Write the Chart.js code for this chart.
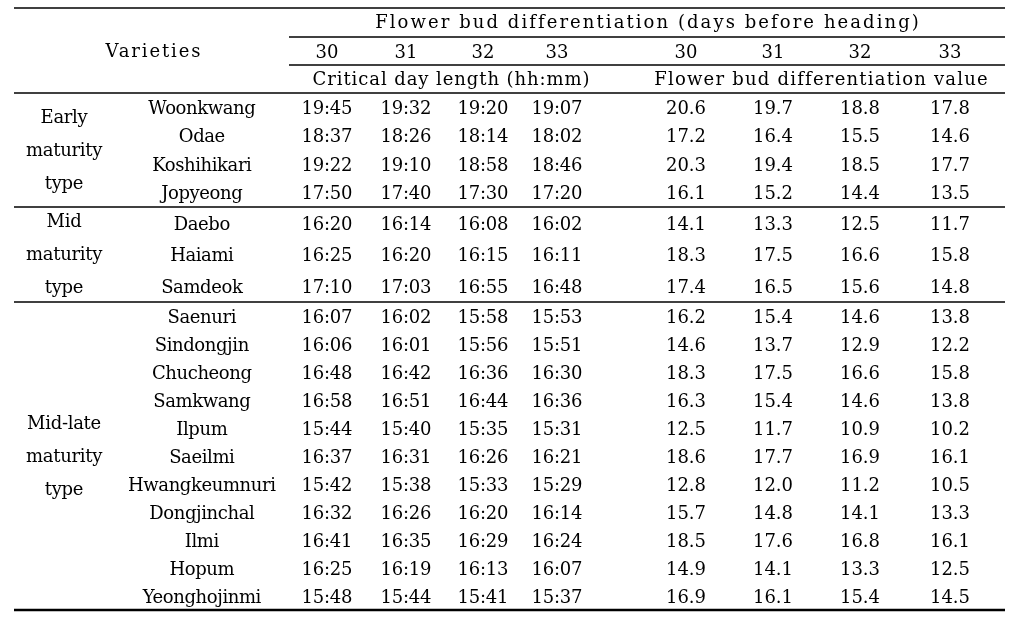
<!DOCTYPE html>
<html><head><meta charset="utf-8">
<script src="https://cdn.jsdelivr.net/npm/chart.js@4/dist/chart.umd.min.js"></script>
<style>html,body{margin:0;padding:0;background:#fff;}#wrap{width:1013px;height:621px;}</style>
</head><body><div id="wrap"><canvas id="c" width="1013" height="621"></canvas></div>
<script>
// ---------------- DATA ----------------
const groupLabels = [["Early","maturity","type"],["Mid","maturity","type"],["Mid-late","maturity","type"]];
const varieties = ["Woonkwang","Odae","Koshihikari","Jopyeong","Daebo","Haiami","Samdeok","Saenuri","Sindongjin","Chucheong","Samkwang","Ilpum","Saeilmi","Hwangkeumnuri","Dongjinchal","Ilmi","Hopum","Yeonghojinmi"];
const varietyGroup = [0,0,0,0,1,1,1,2,2,2,2,2,2,2,2,2,2,2];
const daysBeforeHeading = [30,31,32,33];
const cdl30 = ["19:45","18:37","19:22","17:50","16:20","16:25","17:10","16:07","16:06","16:48","16:58","15:44","16:37","15:42","16:32","16:41","16:25","15:48"];
const cdl31 = ["19:32","18:26","19:10","17:40","16:14","16:20","17:03","16:02","16:01","16:42","16:51","15:40","16:31","15:38","16:26","16:35","16:19","15:44"];
const cdl32 = ["19:20","18:14","18:58","17:30","16:08","16:15","16:55","15:58","15:56","16:36","16:44","15:35","16:26","15:33","16:20","16:29","16:13","15:41"];
const cdl33 = ["19:07","18:02","18:46","17:20","16:02","16:11","16:48","15:53","15:51","16:30","16:36","15:31","16:21","15:29","16:14","16:24","16:07","15:37"];
const fbd30 = [20.6,17.2,20.3,16.1,14.1,18.3,17.4,16.2,14.6,18.3,16.3,12.5,18.6,12.8,15.7,18.5,14.9,16.9];
const fbd31 = [19.7,16.4,19.4,15.2,13.3,17.5,16.5,15.4,13.7,17.5,15.4,11.7,17.7,12.0,14.8,17.6,14.1,16.1];
const fbd32 = [18.8,15.5,18.5,14.4,12.5,16.6,15.6,14.6,12.9,16.6,14.6,10.9,16.9,11.2,14.1,16.8,13.3,15.4];
const fbd33 = [17.8,14.6,17.7,13.5,11.7,15.8,14.8,13.8,12.2,15.8,13.8,10.2,16.1,10.5,13.3,16.1,12.5,14.5];
const titleText = "Flower bud differentiation (days before heading)";
const cdlTitle = "Critical day length (hh:mm)";
const fbdTitle = "Flower bud differentiation value";
const varietiesTitle = "Varieties";

// ---------------- LAYOUT (positions in scale units) ----------------
const L = {
  left: 14, right: 1005, spanLeft: 289,
  hTop: 8, h1: 37, h2: 65, hBottom: 93,
  sections: [93, 207, 302, 610],
  groupX: 64, groupLineGap: 33,
  varietyX: 202,
  cdlX: [327, 406, 483, 557],
  fbdX: [686, 773, 860, 950],
  titleY: 22, numY: 51, subY: 79,
  titleX: 647, titleW: 543,
  cdlTitleX: 451, cdlTitleW: 277,
  fbdTitleX: 821, fbdTitleW: 333,
  varTitleX: 153, varTitleW: 95
};
const BODY = '"DejaVu Serif", serif';

function rowY(i) {
  const g = varietyGroup[i];
  const idxs = varietyGroup.map((v, k) => v === g ? k : -1).filter(k => k >= 0);
  const k = idxs.indexOf(i);
  const top = L.sections[g], bot = L.sections[g + 1];
  return top + (k + 0.5) * (bot - top) / idxs.length;
}
function column(xv, labels) {
  return labels.map((lab, i) => ({ x: xv, y: rowY(i), label: lab }));
}
const cdlCols = [cdl30, cdl31, cdl32, cdl33];
const fbdCols = [fbd30, fbd31, fbd32, fbd33];
const datasets = [];
datasets.push({ label: "Varieties", data: column(L.varietyX, varieties), spacing: -0.4 });
cdlCols.forEach((c, j) => datasets.push({ label: "CDL " + daysBeforeHeading[j], data: column(L.cdlX[j], c), spacing: -0.2 }));
fbdCols.forEach((c, j) => datasets.push({ label: "FBD " + daysBeforeHeading[j], data: column(L.fbdX[j], c.map(v => v.toFixed(1))), spacing: 0 }));
datasets.forEach(d => { d.pointRadius = 0; d.pointHoverRadius = 0; d.showLine = false; });

function fitText(ctx, text, cx, cy, w) {
  ctx.letterSpacing = '0px';
  const m = ctx.measureText(text).width;
  const ls = (w - m) / (text.length - 1);
  ctx.letterSpacing = ls + 'px';
  ctx.fillText(text, cx + ls / 2, cy);
  ctx.letterSpacing = '0px';
}

const tablePlugin = {
  id: 'tableDraw',
  afterDatasetsDraw(chart) {
    const { ctx, scales: { x, y } } = chart;
    const X = v => x.getPixelForValue(v), Y = v => y.getPixelForValue(v);
    ctx.save();
    ctx.fillStyle = '#000';
    ctx.strokeStyle = '#000';
    const hline = (yv, x0, x1, w) => {
      ctx.lineWidth = w;
      ctx.beginPath(); ctx.moveTo(X(x0), Y(yv)); ctx.lineTo(X(x1), Y(yv)); ctx.stroke();
    };
    hline(L.hTop, L.left, L.right, 1.4);
    hline(L.h1, L.spanLeft, L.right, 1.4);
    hline(L.h2, L.spanLeft, L.right, 1.4);
    hline(L.hBottom, L.left, L.right, 1.4);
    hline(L.sections[1], L.left, L.right, 1.4);
    hline(L.sections[2], L.left, L.right, 1.4);
    hline(L.sections[3], L.left, L.right, 2.4);
    ctx.textAlign = 'center';
    ctx.textBaseline = 'middle';
    ctx.font = '18px ' + BODY;
    fitText(ctx, titleText, X(L.titleX), Y(L.titleY) + 1, L.titleW);
    fitText(ctx, cdlTitle, X(L.cdlTitleX), Y(L.subY) + 1, L.cdlTitleW);
    fitText(ctx, fbdTitle, X(L.fbdTitleX), Y(L.subY) + 1, L.fbdTitleW);
    fitText(ctx, varietiesTitle, X(L.varTitleX), Y(L.numY) + 1, L.varTitleW);
    daysBeforeHeading.forEach((d, j) => {
      ctx.fillText(String(d), X(L.cdlX[j]), Y(L.numY) + 2);
      ctx.fillText(String(d), X(L.fbdX[j]), Y(L.numY) + 2);
    });
    ctx.letterSpacing = '-0.3px';
    groupLabels.forEach((lines, g) => {
      const c = (L.sections[g] + L.sections[g + 1]) / 2;
      lines.forEach((t, k) => ctx.fillText(t, X(L.groupX), Y(c + (k - 1) * L.groupLineGap) + 1));
    });
    chart.data.datasets.forEach((ds, di) => {
      const meta = chart.getDatasetMeta(di);
      ctx.letterSpacing = ds.spacing + 'px';
      meta.data.forEach((el, i) => {
        ctx.fillText(ds.data[i].label, el.x + ds.spacing / 2, el.y + 2);
      });
    });
    ctx.restore();
  }
};

new Chart(document.getElementById('c'), {
  type: 'scatter',
  data: { datasets },
  options: {
    responsive: false,
    animation: false,
    layout: { padding: 0 },
    plugins: { legend: { display: false }, tooltip: { enabled: false } },
    events: [],
    scales: {
      x: { type: 'linear', min: 0, max: 1013, display: false },
      y: { type: 'linear', min: 0, max: 621, reverse: true, display: false }
    }
  },
  plugins: [tablePlugin]
});
</script>
</body></html>
